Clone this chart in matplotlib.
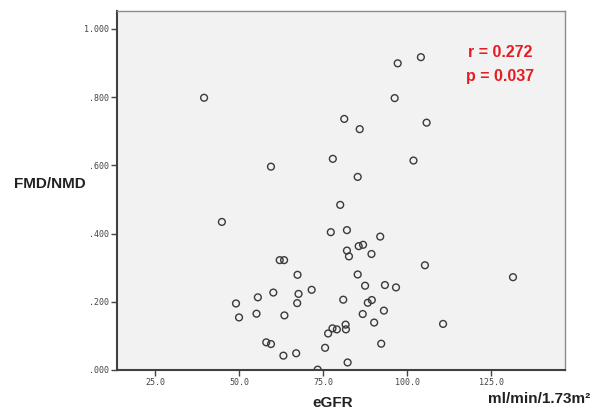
import matplotlib
matplotlib.use('Agg')
import matplotlib.pyplot as plt

# eGFR (ml/min/1.73m2) vs FMD/NMD ratio
egfr = [39.5, 59.4, 97.1, 104.0, 96.2, 81.2, 85.8, 105.7, 77.8, 101.8,
        85.2, 44.8, 62.0, 63.3, 67.3, 60.1, 67.6, 55.5, 49.0, 67.2,
        55.1, 63.4, 49.9, 58.0, 59.4, 63.1, 66.9, 80.0, 77.2, 82.0,
        91.9, 85.5, 86.8, 82.0, 82.6, 89.3, 105.2, 85.2, 131.4, 71.5,
        87.4, 93.3, 96.6, 80.9, 88.2, 89.4, 93.0, 86.7, 90.1, 110.6,
        81.6, 81.7, 79.0, 77.7, 76.4, 75.5, 92.2, 82.2, 73.3]
fmd_nmd = [0.798, 0.596, 0.899, 0.917, 0.797, 0.736, 0.706, 0.725, 0.619, 0.614,
           0.566, 0.434, 0.322, 0.322, 0.279, 0.227, 0.223, 0.213, 0.195, 0.196,
           0.165, 0.160, 0.154, 0.081, 0.076, 0.042, 0.049, 0.484, 0.404, 0.410,
           0.391, 0.363, 0.367, 0.350, 0.333, 0.340, 0.307, 0.280, 0.272, 0.235,
           0.247, 0.249, 0.242, 0.206, 0.197, 0.205, 0.174, 0.164, 0.139, 0.135,
           0.133, 0.119, 0.119, 0.122, 0.107, 0.065, 0.077, 0.022, 0.001]

xticks = [25, 50, 75, 100, 125]
yticks = [0.0, 0.2, 0.4, 0.6, 0.8, 1.0]
ytick_labels = ['.000', '.200', '.400', '.600', '.800', '1.000']
stats = ['r = 0.272', 'p = 0.037']

fig = plt.figure(figsize=(5.97, 4.12), dpi=100)
ax = fig.add_axes([0.196, 0.102, 0.75, 0.871])
ax.set_facecolor('#f2f2f2')

ax.scatter(egfr, fmd_nmd, s=24, facecolors='none', edgecolors='#3a3a3a', linewidths=1.0, zorder=3)

ax.set_xlim(13.6, 146.8)
ax.set_ylim(0, 1.052)
ax.set_xticks(xticks)
ax.set_xticklabels(['%.1f' % v for v in xticks])
ax.set_yticks(yticks)
ax.set_yticklabels(ytick_labels)
for lab in ax.get_xticklabels() + ax.get_yticklabels():
    lab.set_family('DejaVu Sans Mono')
    lab.set_fontsize(6)
    lab.set_color('#444444')
ax.tick_params(direction='out', length=4, width=1, color='#444444', pad=2)

for s in ['left', 'bottom']:
    ax.spines[s].set_color('#404040')
    ax.spines[s].set_linewidth(1.5)
for s in ['top', 'right']:
    ax.spines[s].set_color('#8c8c8c')
    ax.spines[s].set_linewidth(1.0)

# axis titles
fig.text(50 / 597, 1 - 184 / 412, 'FMD/NMD', family='Liberation Sans', fontweight='bold',
         fontsize=11, color='#222222', ha='center', va='center')
fig.text(333 / 597, 1 - 403 / 412, 'eGFR', family='Liberation Sans', fontweight='bold',
         fontsize=11, color='#222222', ha='center', va='center')
fig.text(539 / 597, 1 - 399 / 412, 'ml/min/1.73m\u00b2', family='Liberation Sans', fontweight='bold',
         fontsize=11, color='#222222', ha='center', va='center')

# correlation stats
ax.text(0.855, 0.885, stats[0], transform=ax.transAxes, color='#e51c23', fontsize=11.5,
        fontweight='bold', family='Liberation Sans', ha='center', va='center')
ax.text(0.855, 0.818, stats[1], transform=ax.transAxes, color='#e51c23', fontsize=11.5,
        fontweight='bold', family='Liberation Sans', ha='center', va='center')

fig.savefig('out.png', dpi=100)
